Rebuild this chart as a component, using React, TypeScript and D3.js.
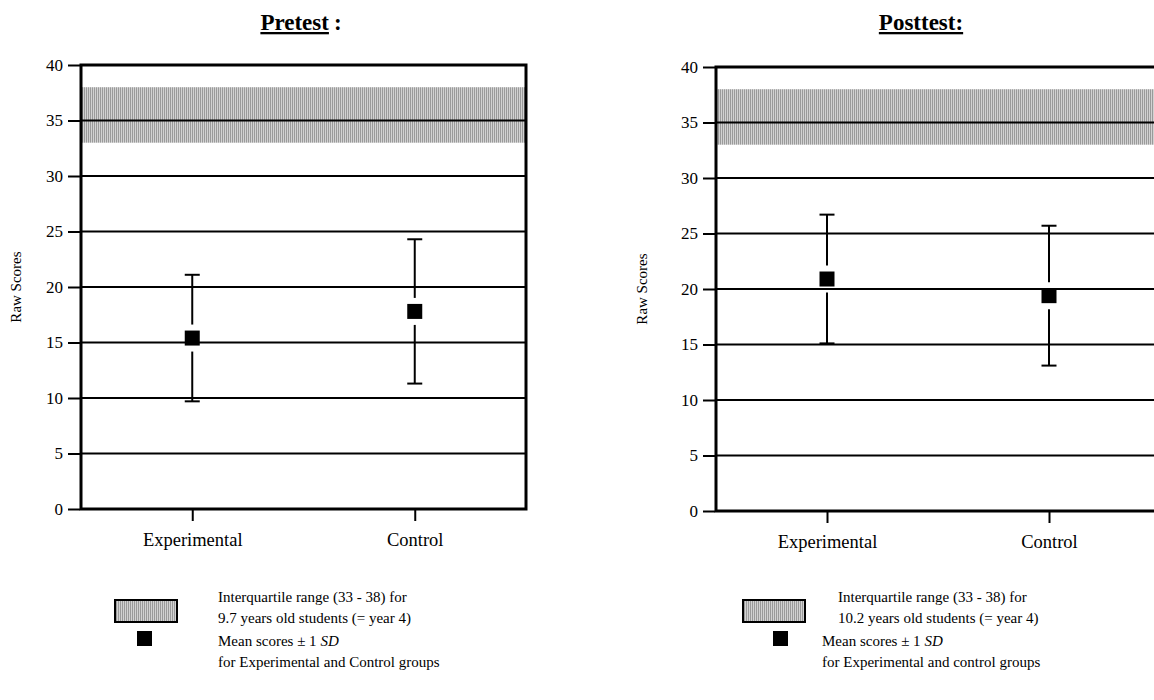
import * as d3 from 'd3';
import { useEffect, useRef } from 'react';

// values
const groups = ['Experimental', 'Control'];
const yTicks = [0, 5, 10, 15, 20, 25, 30, 35, 40];
const iqrRange = [33, 38];

const preMeans = [15.4, 17.8];
const preSD = [5.7, 6.5];
const postMeans = [20.9, 19.4];
const postSD = [5.8, 6.3];

const preLegend = ['Interquartile range (33 - 38) for', '9.7 years old students (= year 4)'];
const postLegend = ['Interquartile range (33 - 38) for', '10.2 years old students (= year 4)'];
const preMeanLegend = 'for Experimental and Control groups';
const postMeanLegend = 'for Experimental and control groups';

const FONT = "'Liberation Serif', 'Times New Roman', Times, serif";

type PanelCfg = {
    title: string;
    underlineAll: boolean;
    titleX: number;
    x0: number;
    x1: number;
    yTop: number;
    yBottom: number;
    means: number[];
    sds: number[];
    legend: string[];
    meanLegend: string;
    swatchX: number;
    squareX: number;
    legendTextX: number;
    meanTextX: number;
    labelX: number;
};

const panels: PanelCfg[] = [
    {
        title: 'Pretest',
        underlineAll: false,
        titleX: 301,
        x0: 81,
        x1: 526,
        yTop: 65,
        yBottom: 509,
        means: preMeans,
        sds: preSD,
        legend: preLegend,
        meanLegend: preMeanLegend,
        swatchX: 115,
        squareX: 137,
        legendTextX: 218,
        meanTextX: 218,
        labelX: 21,
    },
    {
        title: 'Posttest:',
        underlineAll: true,
        titleX: 921,
        x0: 716,
        x1: 1160,
        yTop: 67,
        yBottom: 511,
        means: postMeans,
        sds: postSD,
        legend: postLegend,
        meanLegend: postMeanLegend,
        swatchX: 743,
        squareX: 773,
        legendTextX: 838,
        meanTextX: 822,
        labelX: 647,
    },
];

function App() {
    const svgRef = useRef<SVGSVGElement>(null);

    useEffect(() => {
        const w = 1154;
        const h = 700;
        const svg = d3.select(svgRef.current);
        svg.selectAll('*').remove();
        svg.attr('width', w).attr('height', h).attr('font-family', FONT);

        // vertical hatch used for the interquartile band
        const pat = svg
            .append('defs')
            .append('pattern')
            .attr('id', 'hatch')
            .attr('patternUnits', 'userSpaceOnUse')
            .attr('width', 2)
            .attr('height', 4);
        pat.append('rect').attr('width', 2).attr('height', 4).attr('fill', '#d2d2d2');
        pat.append('rect').attr('width', 1).attr('height', 4).attr('fill', '#9a9a9a');

        panels.forEach((p) => {
            const g = svg.append('g');

            const y = d3.scaleLinear().domain([0, 40]).range([p.yBottom, p.yTop]);
            const x = d3.scalePoint().domain(groups).range([p.x0, p.x1]).padding(0.5);

            // band
            g.append('rect')
                .attr('x', p.x0)
                .attr('y', y(iqrRange[1]))
                .attr('width', p.x1 - p.x0)
                .attr('height', y(iqrRange[0]) - y(iqrRange[1]))
                .attr('fill', 'url(#hatch)');

            // grid lines
            g.selectAll('line.grid')
                .data(yTicks.filter((t) => t > 0 && t < 40))
                .enter()
                .append('line')
                .attr('x1', p.x0)
                .attr('x2', p.x1)
                .attr('y1', (d) => y(d))
                .attr('y2', (d) => y(d))
                .attr('stroke', '#000')
                .attr('stroke-width', 2);

            // frame
            g.append('rect')
                .attr('x', p.x0)
                .attr('y', p.yTop)
                .attr('width', p.x1 - p.x0)
                .attr('height', p.yBottom - p.yTop)
                .attr('fill', 'none')
                .attr('stroke', '#000')
                .attr('stroke-width', 3);

            // axes
            const yAxis = g
                .append('g')
                .attr('transform', `translate(${p.x0 - 1}, 0)`)
                .call(d3.axisLeft(y).tickValues(yTicks).tickSize(12).tickPadding(5));
            yAxis.attr('font-family', FONT).attr('font-size', 17);
            yAxis.select('.domain').remove();
            yAxis.selectAll('line').attr('stroke-width', 2);

            const xAxis = g
                .append('g')
                .attr('transform', `translate(0, ${p.yBottom + 1})`)
                .call(d3.axisBottom(x).tickSize(11).tickPadding(12));
            xAxis.attr('font-family', FONT).attr('font-size', 18.5);
            xAxis.select('.domain').remove();
            xAxis.selectAll('line').attr('stroke-width', 2);

            // error bars
            const half = 7.5;
            const gap = 6;
            groups.forEach((grp, i) => {
                const cx = x(grp) as number;
                const m = p.means[i];
                const s = p.sds[i];
                const cy = y(m);
                const hi = y(m + s);
                const lo = y(m - s);
                const seg = (a: number, b: number) =>
                    g.append('line')
                        .attr('x1', cx)
                        .attr('x2', cx)
                        .attr('y1', a)
                        .attr('y2', b)
                        .attr('stroke', '#000')
                        .attr('stroke-width', 2);
                seg(hi, cy - half - gap);
                seg(cy + half + gap, lo);
                [hi, lo].forEach((yy) =>
                    g.append('line')
                        .attr('x1', cx - 7.5)
                        .attr('x2', cx + 7.5)
                        .attr('y1', yy)
                        .attr('y2', yy)
                        .attr('stroke', '#000')
                        .attr('stroke-width', 2)
                );
                g.append('rect')
                    .attr('x', cx - half)
                    .attr('y', cy - half)
                    .attr('width', half * 2)
                    .attr('height', half * 2)
                    .attr('fill', '#000');
            });

            // title
            const t = svg
                .append('text')
                .attr('x', p.titleX)
                .attr('y', 30)
                .attr('text-anchor', 'middle')
                .attr('font-size', 23)
                .attr('font-weight', 'bold');
            t.append('tspan').attr('text-decoration', 'underline').text(p.title);
            if (!p.underlineAll) {
                t.append('tspan').attr('dx', 5).text(':');
            }

            // y label
            svg.append('text')
                .attr('transform', `translate(${p.labelX}, ${(p.yTop + p.yBottom) / 2}) rotate(-90)`)
                .attr('text-anchor', 'middle')
                .attr('font-size', 15)
                .text('Raw Scores');

            // legend
            svg.append('rect')
                .attr('x', p.swatchX)
                .attr('y', 600)
                .attr('width', 62)
                .attr('height', 22)
                .attr('fill', 'url(#hatch)')
                .attr('stroke', '#000')
                .attr('stroke-width', 2);
            p.legend.forEach((line, i) =>
                svg.append('text')
                    .attr('x', p.legendTextX)
                    .attr('y', 602 + i * 21)
                    .attr('font-size', 15)
                    .text(line)
            );
            svg.append('rect')
                .attr('x', p.squareX)
                .attr('y', 631)
                .attr('width', 15)
                .attr('height', 15)
                .attr('fill', '#000');
            const ml = svg
                .append('text')
                .attr('x', p.meanTextX)
                .attr('y', 646)
                .attr('font-size', 15);
            ml.append('tspan').text('Mean scores ± 1  ');
            ml.append('tspan').attr('font-style', 'italic').text('SD');
            svg.append('text')
                .attr('x', p.meanTextX)
                .attr('y', 667)
                .attr('font-size', 15)
                .text(p.meanLegend);
        });
    }, []);

    return (
        <div style={{ position: 'absolute', left: 0, top: 0 }}>
            <svg ref={svgRef}></svg>
        </div>
    );
}

export default App;
